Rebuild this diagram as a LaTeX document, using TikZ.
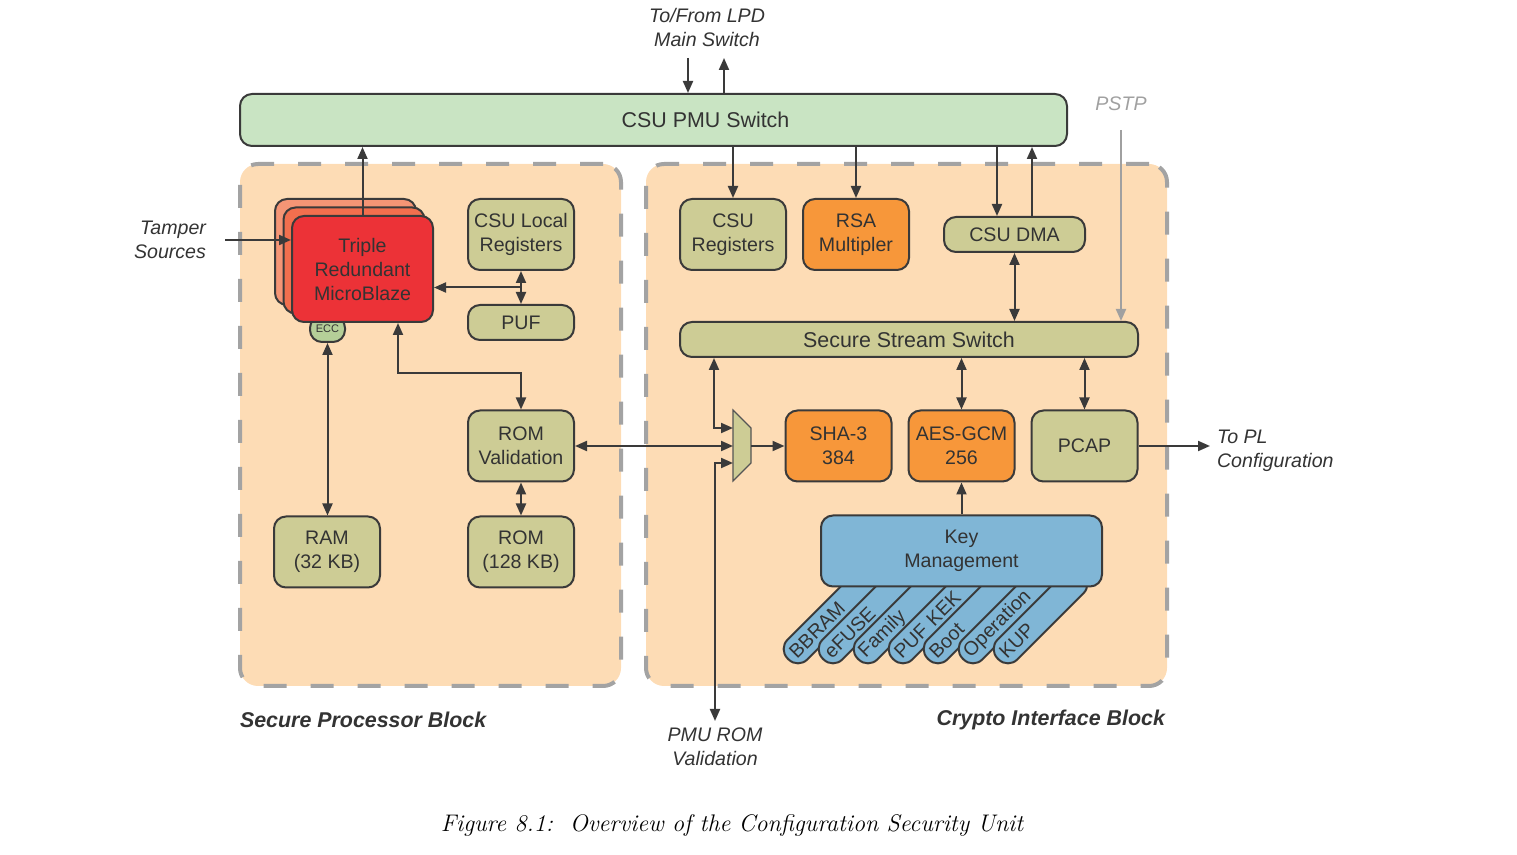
\documentclass[tikz,border=0pt]{standalone}
\usepackage{fontspec}
\setsansfont{Liberation Sans}
\usepackage{xcolor}
\usepackage{tikz}
\usetikzlibrary{arrows.meta, positioning, calc}

\definecolor{edgegray}{HTML}{3A3A3A}
\definecolor{txtgray}{HTML}{333333}
\definecolor{dashgray}{HTML}{A3A3A3}
\definecolor{pstpgray}{HTML}{A0A0A0}
\definecolor{peach}{HTML}{FDDCB5}
\definecolor{pmugreen}{HTML}{C9E4C3}
\definecolor{olivefill}{HTML}{CDCC95}
\definecolor{orangefill}{HTML}{F7973A}
\definecolor{bluefill}{HTML}{80B6D6}
\definecolor{mbred}{HTML}{EC3237}
\definecolor{mbmid}{HTML}{F26F4E}
\definecolor{mbback}{HTML}{F59575}
\definecolor{eccgreen}{HTML}{B5CF98}
\definecolor{muxedge}{HTML}{555555}

\newcommand{\boxfont}{\sffamily\fontsize{9.8}{12}\selectfont}
\newcommand{\bigfont}{\sffamily\fontsize{10.7}{12}\selectfont}

\begin{document}
\begin{tikzpicture}[
    x=0.5pt, y=-0.5pt,
    box/.style={rectangle, draw=edgegray, line width=1pt, rounded corners=6pt,
                align=center, font=\boxfont, text=txtgray, inner sep=0pt},
    olivebox/.style={box, fill=olivefill, minimum width=53pt, minimum height=35.5pt},
    orangebox/.style={box, fill=orangefill, minimum width=53pt, minimum height=35.5pt},
    bluebox/.style={box, fill=bluefill, minimum width=53pt, minimum height=35.5pt},
    pmubox/.style={box, fill=pmugreen},
    mbbox/.style={box, minimum width=70.5pt, minimum height=53pt},
    eccbox/.style={box, fill=eccgreen, minimum width=17.5pt, minimum height=13pt,
                   font=\sffamily\fontsize{5.5}{6}\selectfont},
    keytab/.style={box, fill=bluefill, rounded corners=6.6pt,
                   minimum width=60pt, minimum height=14pt,
                   text width=54pt, inner xsep=3pt, align=left},
    region/.style={rectangle, draw=dashgray, line width=2pt, fill=peach,
                   dash pattern=on 11.5pt off 12pt, rounded corners=9pt},
    muxshape/.style={draw=muxedge, fill=olivefill, line width=0.6pt},
    bigtext/.style={font=\bigfont, text=txtgray},
    itlbl/.style={font=\boxfont\itshape, text=txtgray, align=center},
    blocklbl/.style={font=\bigfont\bfseries\itshape, text=txtgray},
    arr/.style={-{Triangle[length=6pt, width=5pt]}, line width=1pt, draw=edgegray},
    dbl/.style={{Triangle[length=6pt, width=5pt]}-{Triangle[length=6pt, width=5pt]},
                line width=1pt, draw=edgegray},
    grayarr/.style={-{Triangle[length=6pt, width=5pt]}, line width=1pt, draw=pstpgray},
  ]
    \useasboundingbox (0,0) rectangle (1517,855);

    % ── Regions ──────────────────────────────────
    \node[region, minimum width=190.5pt, minimum height=261pt] (spb) at (430.5,425) {};
    \node[region, minimum width=260.5pt, minimum height=261pt] (cib) at (906.5,425) {};
    \node[blocklbl, anchor=west] (spblbl) at (233,720) {Secure Processor Block};
    \node[blocklbl, anchor=east] (ciblbl) at (1172,720) {Crypto Interface Block};

    % ── Switch and outside labels ────────────────
    \node[pmubox, minimum width=413.5pt, minimum height=26pt,
          label={[bigtext, xshift=26pt]center:CSU PMU Switch}] (pmu) at (653.5,120) {};
    \node[itlbl] (lpd) at (707,28) {To/From LPD\\Main Switch};
    \coordinate (lpdin) at (688,58);
    \coordinate (lpdout) at (724,58);
    \node[itlbl, text=pstpgray] (pstp) at (1121,104) {PSTP};
    \coordinate (pstpstart) at ($(pstp.south)+(0,12)$);
    \node[itlbl, align=right] (tamper) at (170,240) {Tamper\\Sources};
    \coordinate (tamperout) at ($(tamper.east)+(12,0)$);

    % ── Secure processor block ───────────────────
    \node[mbbox, fill=mbback] (mb3) at (345.5,252) {};
    \node[mbbox, fill=mbmid] (mb2) at ($(mb3)+(8.5,8.5)$) {};
    \node[eccbox] (ecc) at (327.5,329) {ECC};
    \node[mbbox, fill=mbred] (mb) at ($(mb2)+(8.5,8.5)$) {Triple\\Redundant\\MicroBlaze};
    \node[olivebox] (lreg) at (521,234.5) {CSU Local\\Registers};
    \node[olivebox, minimum height=17.5pt, below=16.5pt of lreg] (puf) {PUF};
    \node[olivebox] (romv) at (521,446) {ROM\\Validation};
    \node[olivebox, below=16.5pt of romv] (rom) {ROM\\(128 KB)};
    \node[olivebox, left=43pt of rom] (ram) {RAM\\(32 KB)};

    % ── Crypto interface block ───────────────────
    \node[olivebox] (creg) at (733,234.5) {CSU\\Registers};
    \node[orangebox, right=7.5pt of creg] (rsa) {RSA\\Multipler};
    \node[olivebox, minimum width=70.5pt, minimum height=17.5pt] (dma) at (1014.5,234.5) {CSU DMA};
    \node[olivebox, minimum width=229pt, minimum height=17.5pt, font=\bigfont] (sss) at (909,339.5) {Secure Stream Switch};
    \node[orangebox] (sha) at (838.5,446) {SHA-3\\384};
    \node[orangebox, right=7.5pt of sha] (aes) {AES-GCM\\256};
    \node[olivebox, right=7.5pt of aes] (pcap) {PCAP};
    \node[itlbl, align=left, anchor=west] (topl) at (1210,451) {To PL\\Configuration};
    \node[itlbl, anchor=north] (pmurom) at (715,721) {PMU ROM\\Validation};

    % mux
    \draw[muxshape] (733,410) -- (751,428) -- (751,463) -- (733,481) -- cycle;
    \coordinate (muxin) at (733,446);
    \coordinate (muxout) at (751,446);

    % key sources
    \foreach \tab [count=\i from 0] in {BBRAM, eFUSE, Family, PUF KEK, Boot, Operation, KUP}
      \node[keytab, rotate=45] (tab\i) at (830.5+35*\i,616.5) {\tab};
    \node[bluebox, minimum width=140.5pt] (km) at (961.5,551) {Key\\Management};

    % ── Connections, left ────────────────────────
    \draw[arr] (lpdin) -- (lpdin |- pmu.north);
    \draw[arr] (lpdout |- pmu.north) -- (lpdout);
    \draw[arr] (mb.north) -- (mb.north |- pmu.south);
    \draw[arr] (tamperout) -- (tamperout -| mb.west);
    \draw[dbl] (lreg.south) -- (puf.north);
    \coordinate (lregpuf) at ($(lreg.south)!0.5!(puf.north)$);
    \draw[arr] (lregpuf) -- (lregpuf -| mb.east);
    \draw[dbl] (ecc.south) -- (ecc.south |- ram.north);
    \draw[dbl] (romv.north) -- ++(0,-36) -| ($(mb.south)+(35.5,0)$);
    \draw[dbl] (romv.south) -- (rom.north);
    \draw[dbl] (romv.east) -- (muxin);

    % ── Connections, right ───────────────────────
    \draw[arr] (creg.north |- pmu.south) -- (creg.north);
    \draw[arr] (rsa.north |- pmu.south) -- (rsa.north);
    \coordinate (dmain) at ($(dma.north)+(-17.5,0)$);
    \coordinate (dmaout) at ($(dma.north)+(17.5,0)$);
    \draw[arr] (dmain |- pmu.south) -- (dmain);
    \draw[arr] (dmaout) -- (dmaout |- pmu.south);
    \draw[dbl] (dma.south) -- (dma.south |- sss.north);
    \draw[grayarr] (pstpstart) -- (pstpstart |- sss.north);
    \draw[dbl] (sss.south -| aes.north) -- (aes.north);
    \draw[dbl] (sss.south -| pcap.north) -- (pcap.north);
    \coordinate (ssstap) at ($(sss.south west)+(35,0)$);
    \draw[dbl] (ssstap) |- ($(muxin)+(0,-18)$);
    \draw[dbl] (pmurom.north) |- ($(muxin)+(0,17)$);
    \draw[arr] (muxout) -- (sha.west);
    \draw[arr] (km.north) -- (km.north |- aes.south);
    \draw[arr] (pcap.east) -- (pcap.east -| topl.west);

    % ── Caption ──────────────────────────────────
    \node[font=\rmfamily\itshape\fontsize{12}{15}\selectfont, text=black] (caption)
      at (732,825) {Figure 8.1:\ \ Overview of the Configuration Security Unit};
\end{tikzpicture}
\end{document}
